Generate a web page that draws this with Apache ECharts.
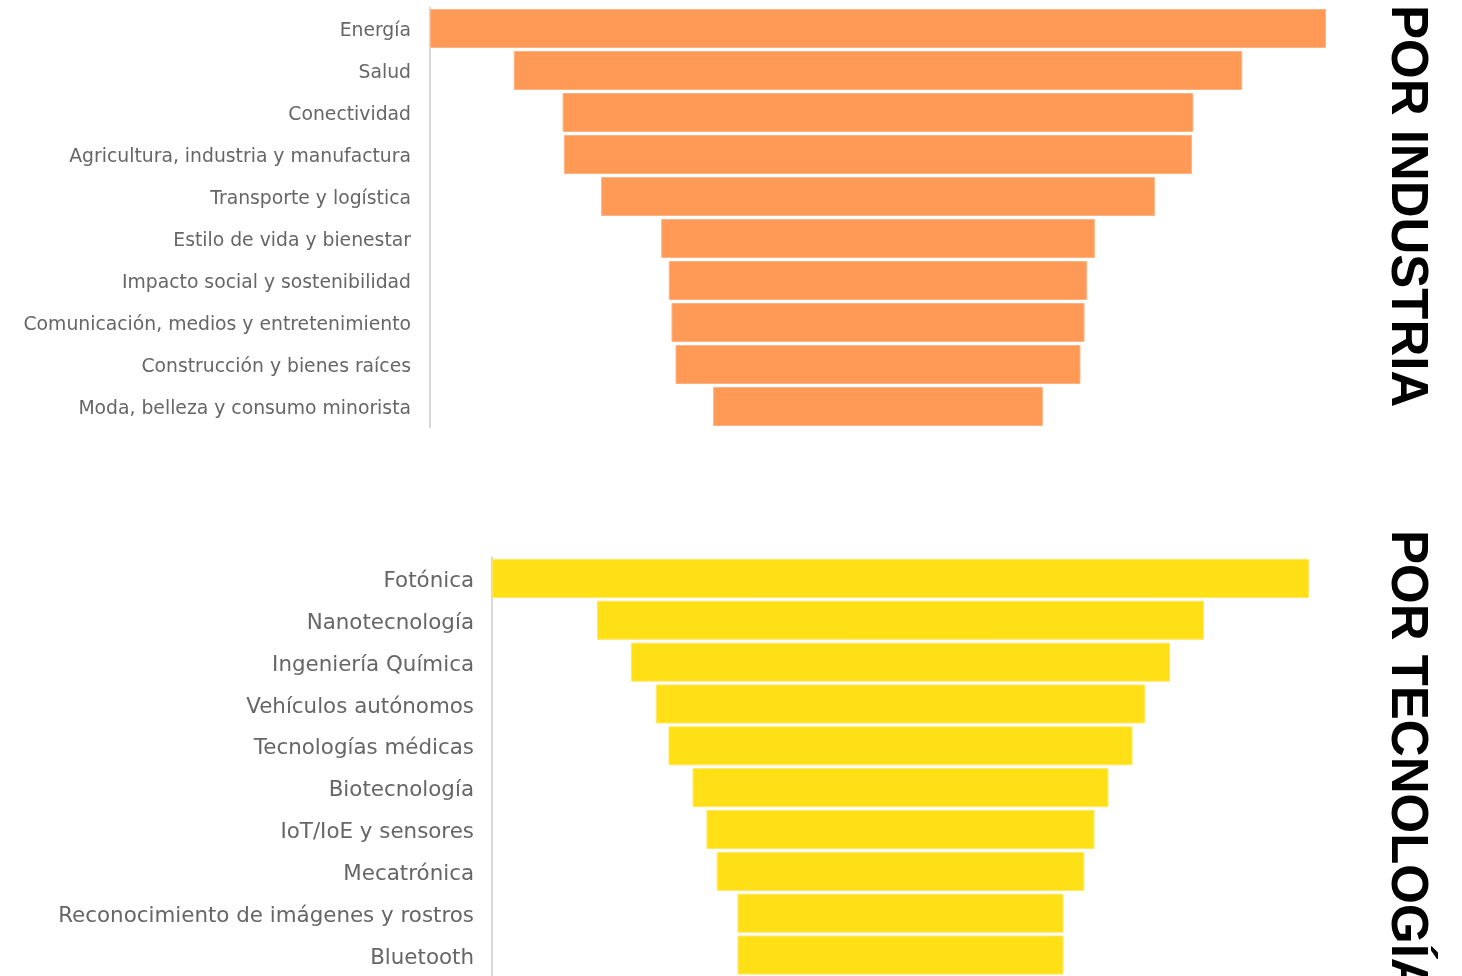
<!DOCTYPE html>
<html>
<head>
<meta charset="utf-8">
<script src="https://cdn.jsdelivr.net/npm/echarts@6/dist/echarts.min.js"></script>
<style>html,body{margin:0;padding:0;background:#fff;}#c{width:1462px;height:976px;}</style>
</head>
<body>
<div id="c"></div>
<script>
// Top chart: por industria
var industryCategories = ['Energía','Salud','Conectividad','Agricultura, industria y manufactura','Transporte y logística','Estilo de vida y bienestar','Impacto social y sostenibilidad','Comunicación, medios y entretenimiento','Construcción y bienes raíces','Moda, belleza y consumo minorista'];
var industryValues = [100, 81.3, 70.4, 70.1, 61.8, 48.4, 46.7, 46.1, 45.2, 36.8];
// Bottom chart: por tecnología
var techCategories = ['Fotónica','Nanotecnología','Ingeniería Química','Vehículos autónomos','Tecnologías médicas','Biotecnología','IoT/IoE y sensores','Mecatrónica','Reconocimiento de imágenes y rostros','Bluetooth'];
var techValues = [100, 74.3, 66.0, 59.9, 56.8, 50.9, 47.5, 45.0, 39.9, 39.9];

var industryTitle = 'POR INDUSTRIA';
var techTitle = 'POR TECNOLOGÍA';

function maxOf(a){ return Math.max.apply(null, a); }
function offsets(a){ var m = maxOf(a); return a.map(function(v){ return (m - v) / 2; }); }

var labelFont = '"DejaVu Sans", sans-serif';
function labelCfg(size, margin){
  return {
    margin: margin,
    formatter: function(v){ return '{a|' + v + '}'; },
    rich: { a: { color:'#666666', fontSize:size, fontFamily:labelFont, padding:[6,0,0,0] } }
  };
}
var chart = echarts.init(document.getElementById('c'), null, {renderer:'canvas'});
chart.setOption({
  animation: false,
  backgroundColor: '#ffffff',
  grid: [
    {left: 430, right: 136, top: 7.5, height: 420},
    {left: 492, right: 153, top: 557.5, height: 420}
  ],
  xAxis: [
    {type:'value', gridIndex:0, min:0, max:maxOf(industryValues), show:false},
    {type:'value', gridIndex:1, min:0, max:maxOf(techValues), show:false}
  ],
  yAxis: [
    {type:'category', gridIndex:0, data: industryCategories, inverse:true,
     axisLine:{show:true, onZero:false, lineStyle:{color:'#d9d9d9', width:2}},
     axisTick:{show:false}, splitLine:{show:false},
     axisLabel: labelCfg(18.8, 19)},
    {type:'category', gridIndex:1, data: techCategories, inverse:true,
     axisLine:{show:true, onZero:false, lineStyle:{color:'#d9d9d9', width:2}},
     axisTick:{show:false}, splitLine:{show:false},
     axisLabel: labelCfg(21.4, 18)}
  ],
  series: [
    {type:'bar', xAxisIndex:0, yAxisIndex:0, stack:'a', data: offsets(industryValues), barWidth:39,
     itemStyle:{color:'transparent'}, silent:true},
    {type:'bar', xAxisIndex:0, yAxisIndex:0, stack:'a', data: industryValues, barWidth:39,
     itemStyle:{color:'#ff9a56', borderColor:'#ffb383', borderWidth:1}},
    {type:'bar', xAxisIndex:1, yAxisIndex:1, stack:'b', data: offsets(techValues), barWidth:39,
     itemStyle:{color:'transparent'}, silent:true},
    {type:'bar', xAxisIndex:1, yAxisIndex:1, stack:'b', data: techValues, barWidth:39,
     itemStyle:{color:'#ffdf15', borderColor:'#ffe85e', borderWidth:1}}
  ],
  graphic: [
    {type:'text', x:1406, y:5, rotation:-Math.PI/2,
     style:{text: industryTitle, fill:'#000', fontSize:51, fontWeight:'bold', fontFamily:'"Liberation Sans", Arial, sans-serif', align:'left', verticalAlign:'middle'}},
    {type:'text', x:1406, y:530, rotation:-Math.PI/2,
     style:{text: techTitle, fill:'#000', fontSize:51, fontWeight:'bold', fontFamily:'"Liberation Sans", Arial, sans-serif', align:'left', verticalAlign:'middle'}}
  ]
});
</script>
</body>
</html>
